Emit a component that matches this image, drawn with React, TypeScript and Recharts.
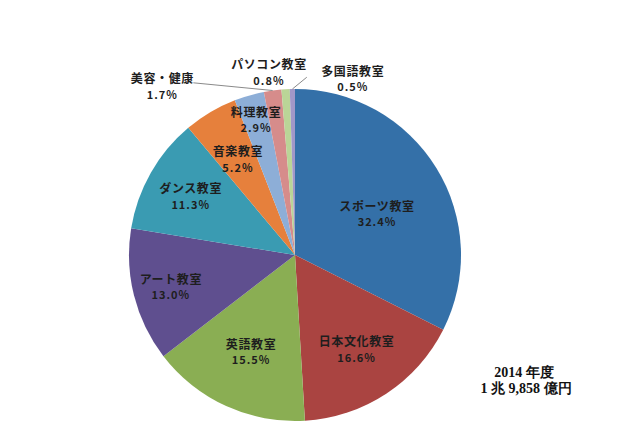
import React from "react";
import { PieChart, Pie, Cell } from "recharts";

const categories = [
  "スポーツ教室",
  "日本文化教室",
  "英語教室",
  "アート教室",
  "ダンス教室",
  "音楽教室",
  "料理教室",
  "美容・健康",
  "パソコン教室",
  "多国語教室",
];
const shares = [32.4, 16.6, 15.5, 13.0, 11.3, 5.2, 2.9, 1.7, 0.8, 0.5];
const colors = [
  "#3470A8",
  "#AA4441",
  "#8AAE53",
  "#5F4F8F",
  "#3A9BB2",
  "#E6803C",
  "#8DAED7",
  "#D68C8B",
  "#BAD597",
  "#A197C8",
];
const footerLines = ["2014 年度", "1 兆 9,858 億円"];

// label placement: radius (px from center); angle null = slice mid angle
const labelRadius = [92, 112, 106, 128, 120, 112, 141, 215, 185, 186];
const labelAngle: (number | null)[] = [27, null, null, null, null, null, null, 128.1, 98.1, 71.9];
const leaderLine = [false, false, false, false, false, false, false, true, false, true];

const data = categories.map((name, i) => ({ name, value: shares[i] }));

const RAD = Math.PI / 180;

const renderLabel = (props: any) => {
  const { cx, cy, midAngle, outerRadius, index } = props;
  const ang = labelAngle[index] ?? midAngle;
  const r = labelRadius[index];
  const x = cx + r * Math.cos(ang * RAD);
  const y = cy - r * Math.sin(ang * RAD);
  const font = { fontFamily: "'Noto Sans CJK JP', sans-serif", fontWeight: 700 } as const;
  let line = null;
  if (leaderLine[index]) {
    const ex = cx + outerRadius * Math.cos(midAngle * RAD);
    const ey = cy - outerRadius * Math.sin(midAngle * RAD);
    const sx = index === 7 ? x + 31 : x - 46;
    const sy = index === 7 ? y - 3 : y - 1;
    line = <line x1={sx} y1={sy} x2={ex} y2={ey} stroke="#8a8a8a" strokeWidth={1} />;
  }
  return (
    <g key={`lbl-${index}`}>
      {line}
      <text x={x} y={y - 8} textAnchor="middle" dominantBaseline="central" fontSize={12} fill="#1e1e1e" letterSpacing={0.6} style={font}>
        {categories[index]}
      </text>
      <text x={x} y={y + 8} textAnchor="middle" dominantBaseline="central" fontSize={11} fill="#1e1e1e" letterSpacing={1} style={font}>
        {shares[index].toFixed(1) + "%"}
      </text>
    </g>
  );
};

export default function App() {
  return (
    <div style={{ position: "absolute", left: 0, top: 0, width: 640, height: 426, background: "#fff" }}>
      <PieChart width={640} height={426} margin={{ top: 0, right: 0, bottom: 0, left: 0 }}>
        <Pie
          data={data}
          dataKey="value"
          nameKey="name"
          cx={295}
          cy={255}
          outerRadius={166}
          startAngle={90}
          endAngle={-270}
          stroke="none"
          label={renderLabel}
          labelLine={false}
          isAnimationActive={false}
        >
          {data.map((d, i) => (
            <Cell key={d.name} fill={colors[i]} />
          ))}
        </Pie>
        <text x={524} y={372} textAnchor="middle" dominantBaseline="central" fontSize={14} fontWeight={700} fill="#111" style={{ fontFamily: "'Liberation Serif', serif" }}>
          {footerLines[0]}
        </text>
        <text x={526} y={388} textAnchor="middle" dominantBaseline="central" fontSize={14} fontWeight={700} fill="#111" style={{ fontFamily: "'Liberation Serif', serif" }}>
          {footerLines[1]}
        </text>
      </PieChart>
    </div>
  );
}
